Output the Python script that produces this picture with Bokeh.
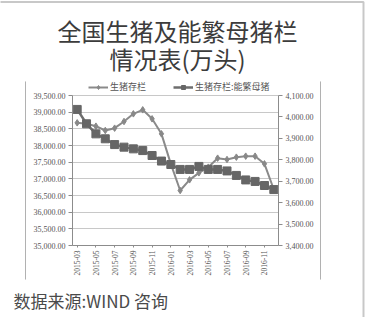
from bokeh.plotting import figure
from bokeh.models import (Range1d, LinearAxis, FixedTicker, NumeralTickFormatter, Legend, LegendItem,
                          Label, BoxAnnotation)
from bokeh.embed import file_html
from bokeh.resources import INLINE
import math

months = ["2015-03", "2015-04", "2015-05", "2015-06", "2015-07", "2015-08", "2015-09", "2015-10",
          "2015-11", "2015-12", "2016-01", "2016-02", "2016-03", "2016-04", "2016-05", "2016-06",
          "2016-07", "2016-08", "2016-09", "2016-10", "2016-11", "2016-12"]
hogs = [38680, 38650, 38580, 38450, 38520, 38720, 38950, 39070, 38800, 38350, 37450, 36650,
        36970, 37180, 37350, 37620, 37580, 37650, 37680, 37680, 37450, 36680]
sows = [4035, 3968, 3921, 3898, 3871, 3859, 3851, 3843, 3820, 3794, 3778, 3755,
        3755, 3769, 3755, 3755, 3748, 3727, 3706, 3699, 3680, 3661]
left_ticks = [35000, 35500, 36000, 36500, 37000, 37500, 38000, 38500, 39000, 39500]
right_ticks = [3400, 3500, 3600, 3700, 3800, 3900, 4000, 4100]
shown_labels = ["2015-03", "2015-05", "2015-07", "2015-09", "2015-11", "2016-01",
                "2016-03", "2016-05", "2016-07", "2016-09", "2016-11"]
title_lines = ["全国生猪及能繁母猪栏", "情况表(万头)"]
series_names = ["生猪存栏", "生猪存栏:能繁母猪"]
source_text = "数据来源:WIND 咨询"

AX = "#8c8c8c"
LBL = "#555555"
SERIF = "Liberation Serif"
CJK = "Noto Sans CJK SC"

W, H = 366, 317
# value area in canvas pixels (the frame covers the whole canvas)
AL, AR, AT, AB = 72, 278, 95, 245
xs = list(range(len(months)))
n = len(months)
px_per_x = (AR - AL) / n
x0, x1 = -0.5, n - 0.5
lo_l, hi_l = left_ticks[0], left_ticks[-1]
lo_r, hi_r = right_ticks[0], right_ticks[-1]
kl = (hi_l - lo_l) / (AB - AT)
kr = (hi_r - lo_r) / (AB - AT)

p = figure(width=W, height=H,
           x_range=Range1d(x0 - AL / px_per_x, x1 + (W - AR) / px_per_x),
           y_range=Range1d(lo_l - (H - AB) * kl, hi_l + AT * kl),
           output_backend="svg", toolbar_location=None, title=None,
           min_border_left=0, min_border_right=0, min_border_top=0, min_border_bottom=0)
p.extra_y_ranges = {"r": Range1d(lo_r - (H - AB) * kr, hi_r + AT * kr)}
p.outline_line_color = None
p.background_fill_color = "white"
p.border_fill_color = "white"

ya = p.yaxis[0]
ya.ticker = FixedTicker(ticks=left_ticks)
ya.formatter = NumeralTickFormatter(format="0,0.00")
ya.bounds = (lo_l, hi_l)
ya.fixed_location = x0

ra = LinearAxis(y_range_name="r", ticker=FixedTicker(ticks=right_ticks),
                formatter=NumeralTickFormatter(format="0,0.00"), bounds=(lo_r, hi_r),
                fixed_location=x1)
p.add_layout(ra, "right")

for ax in (ya, ra):
    ax.major_label_text_font = SERIF
    ax.major_label_text_font_size = "8px"
    ax.major_label_text_color = LBL
    ax.axis_line_color = AX
    ax.major_tick_line_color = AX
    ax.major_tick_out = 4
    ax.major_tick_in = 0
    ax.minor_tick_line_color = None
    ax.major_label_standoff = 3

label_idx = [months.index(m) for m in shown_labels]
xa = p.xaxis[0]
xa.ticker = FixedTicker(ticks=label_idx)
xa.major_label_overrides = {i: months[i] for i in label_idx}
xa.bounds = (x0, x1)
xa.fixed_location = lo_l
xa.major_label_orientation = math.pi / 2
xa.major_label_text_font = SERIF
xa.major_label_text_font_size = "7.5px"
xa.major_label_text_color = LBL
xa.axis_line_color = AX
xa.major_tick_line_color = AX
xa.major_tick_out = 2
xa.major_tick_in = 0
xa.minor_tick_line_color = None
xa.major_label_standoff = 3

p.xgrid.grid_line_color = None
p.ygrid.grid_line_color = "#c8c8c8"
p.ygrid.ticker = FixedTicker(ticks=left_ticks)
try:
    p.ygrid.cross_bounds = (x0, x1)
except Exception:
    pass

r1 = p.line(xs, hogs, line_color="#8a8a8a", line_width=2)
r1m = p.scatter(xs, hogs, marker="diamond", size=6.5, fill_color="#888888", line_color="#888888")
r2 = p.line(xs, sows, y_range_name="r", line_color="#6e6e6e", line_width=2.5)
r2m = p.scatter(xs, sows, y_range_name="r", marker="square", size=8, fill_color="#666666",
                line_color="#666666")

legend = Legend(items=[LegendItem(label=series_names[0], renderers=[r1, r1m]),
                       LegendItem(label=series_names[1], renderers=[r2, r2m])],
                orientation="horizontal", location=(88, H - 93), padding=0, margin=0, spacing=27,
                label_standoff=2, glyph_width=20, glyph_height=10,
                label_text_font=CJK, label_text_font_size="9px",
                label_text_color="#555555", background_fill_alpha=0, border_line_color=None)
p.add_layout(legend, "center")

for txt, yy in zip(title_lines, [30, 58]):
    p.add_layout(Label(x=177, y=H - yy, x_units="screen", y_units="screen", text=txt,
                       text_align="center", text_baseline="middle", text_font=CJK,
                       text_font_size="24px", text_color="#3c3c3c"))
p.add_layout(Label(x=13, y=H - 300, x_units="screen", y_units="screen", text=source_text,
                   text_align="left", text_baseline="middle", text_font=CJK,
                   text_font_size="17px", text_color="#4a4a4a"))

# chart box side lines
for bx in (25, 320):
    p.add_layout(BoxAnnotation(left=bx, right=bx, top=H - 81, bottom=H - 279,
                               left_units="screen", right_units="screen",
                               top_units="screen", bottom_units="screen",
                               fill_alpha=0, line_color="#666666", line_width=1))
# outer frame (top and right edges)
p.add_layout(BoxAnnotation(left=-5, right=W - 3, top=H - 1.5, bottom=-5,
                           left_units="screen", right_units="screen",
                           top_units="screen", bottom_units="screen",
                           fill_alpha=0, line_color="#4a4a4a", line_width=2))

open("out.html", "w").write(file_html(p, INLINE))
